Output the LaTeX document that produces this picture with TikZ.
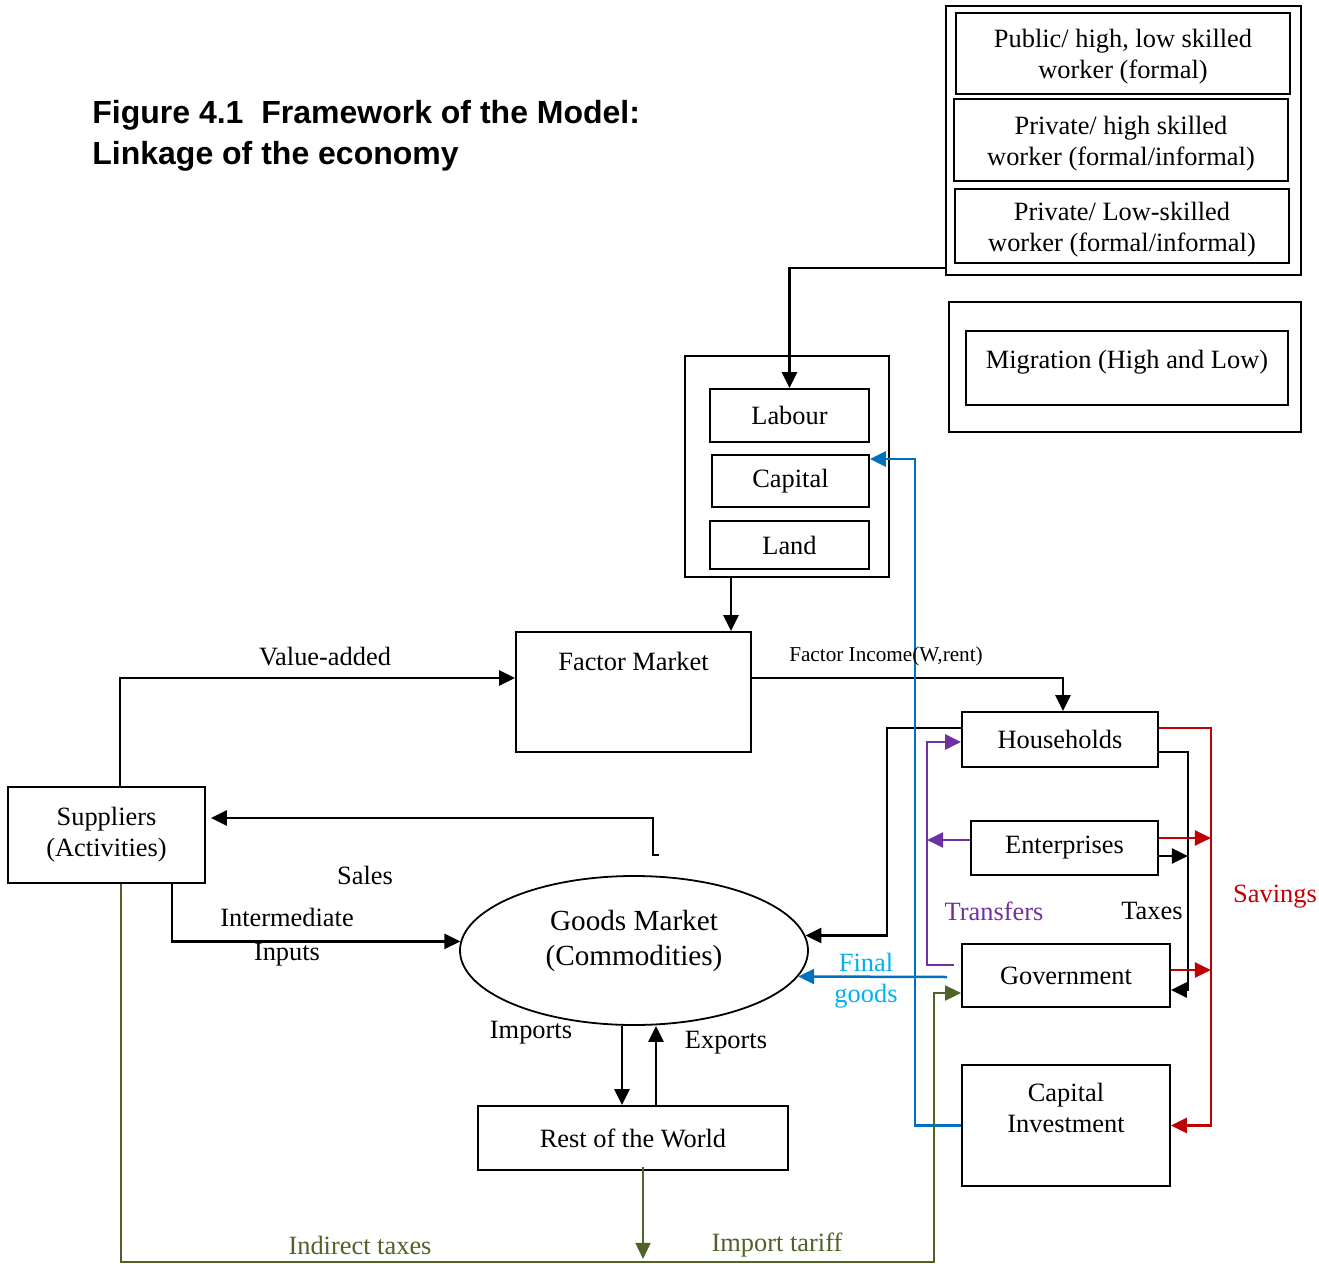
\documentclass[tikz,border=0pt]{standalone}
\usepackage{fontspec}
\setmainfont{Liberation Serif}
\newfontfamily\titlefont{Liberation Sans}
\usepackage{tikz}
\usetikzlibrary{calc,arrows.meta,shapes.geometric}
\definecolor{trfc}{HTML}{7030A0}
\definecolor{savc}{HTML}{C00000}
\definecolor{invc}{HTML}{0070C0}
\definecolor{fgc}{HTML}{00B0F0}
\definecolor{taxc}{HTML}{4F6228}
\tikzset{
  ar/.style={-{Triangle[length=8pt,width=7.5pt]},line width=1.25pt},
  box/.style={draw,line width=0.9pt,align=center,inner sep=2pt,font=\fontsize{13.2}{15.5}\selectfont},
  outerbox/.style={draw,line width=0.7pt,inner sep=0pt},
  lbl/.style={align=center,inner sep=0pt,font=\fontsize{13.2}{15.5}\selectfont}
}

\begin{document}
\begin{tikzpicture}[x=0.5pt,y=-0.5pt]
\useasboundingbox (0,0) rectangle (1319,1264);
% title
\node[anchor=west,align=left,inner sep=0pt,font=\titlefont\bfseries\fontsize{16}{20.5}\selectfont] (title) at (92,136) {Figure 4.1\ \ Framework of the Model:\\Linkage of the economy};
% labour types and migration
\node[outerbox,minimum width=177.5pt,minimum height=134.5pt] (wk) at (1123.5,140.5) {};
\node[box,minimum width=167pt,minimum height=40.5pt,text height=27pt,text depth=2pt] (pub) at (1123,53.5) {Public/ high, low skilled\\worker (formal)};
\node[box,minimum width=167pt,minimum height=41pt,text height=27pt,text depth=2pt] (prh) at (1121,140) {Private/ high skilled\\worker (formal/informal)};
\node[box,minimum width=167pt,minimum height=37pt,text height=27pt,text depth=2pt] (prl) at (1122,226) {Private/ Low-skilled\\worker (formal/informal)};
\node[outerbox,minimum width=176pt,minimum height=65pt] (mo) at (1125,367) {};
\node[box,minimum width=161pt,minimum height=37pt,text height=8pt,text depth=8pt] (mig) at (1127,368) {Migration (High and Low)};
% factors
\node[outerbox,minimum width=102pt,minimum height=110.5pt] (fo) at (787,466.5) {};
\node[box,minimum width=79.5pt,minimum height=26.5pt] (lab) at (789.5,415.5) {Labour};
\node[box,minimum width=78.5pt,minimum height=26pt] (cap) at (790.5,481) {Capital};
\node[box,minimum width=79.5pt,minimum height=24pt] (lnd) at (789.5,545) {Land};
% markets and agents
\node[box,minimum width=117.5pt,minimum height=60pt,text height=9pt,text depth=31pt] (fm) at (633.5,692) {Factor Market};
\node[box,minimum width=98.5pt,minimum height=48pt] (sup) at (106.5,835) {Suppliers\\(Activities)};
\node[box,ellipse,inner sep=0pt,minimum width=174pt,minimum height=74.5pt,text height=24.5pt,text depth=9.5pt,font=\fontsize{14.6}{17.5}\selectfont] (gm) at (634,950.5) {Goods Market\\(Commodities)};
\node[box,minimum width=98pt,minimum height=27.5pt] (hh) at (1060,739.5) {Households};
\node[box,minimum width=93.5pt,minimum height=27pt] (ent) at (1064.5,848) {Enterprises};
\node[box,minimum width=104pt,minimum height=31.5pt] (gov) at (1066,975.5) {Government};
\node[box,minimum width=104pt,minimum height=60.5pt,text height=16.5pt,text depth=10pt] (ci) at (1066,1125.5) {Capital\\Investment};
\node[box,minimum width=155pt,minimum height=32pt] (row) at (633,1138) {Rest of the World};
% flows
\draw[ar] ([yshift=-63.75pt]wk.west) -| (lab.north);
\draw[ar] ([xshift=-28pt]fo.south) -- ([xshift=-28pt]fo.south |- fm.north);
\draw[ar] ([xshift=6.75pt]sup.north) |- ([yshift=7pt]fm.west);
\draw[ar] ([yshift=7pt]fm.east) -| ([xshift=1.5pt]hh.north);
\coordinate (salesend) at (659,855);
\draw[ar] (salesend) -- ++(-3pt,0) |- ([xshift=2.5pt,yshift=8.5pt]sup.east);
\draw[ar] ([xshift=32.75pt]sup.south) |- (gm.177.5);
\draw[ar] ([yshift=5.75pt]hh.west) -- ++(-37pt,0) |- (gm.5.9);
\draw[ar] ([xshift=-5.5pt]row.north |- gm.south) -- ([xshift=-5.5pt]row.north);
\draw[ar] ([xshift=11.5pt]row.north) -- ([xshift=11.5pt]row.north |- gm.south);
% transfers
\draw[ar,trfc] ([xshift=-3.5pt,yshift=5.25pt]gov.west) -- ++(-13.5pt,0) |- ([yshift=-1.25pt]hh.west);
\draw[ar,trfc] ([yshift=4pt]ent.west) -- ++(-21.5pt,0);
% taxes
\draw[ar] ([yshift=-6.25pt]hh.east) -- ++(14.5pt,0) |- ([yshift=-7.25pt]gov.east);
\draw[ar] ([yshift=-4pt]ent.east) -- ++(14.5pt,0);
% savings
\draw[ar,savc] ([yshift=5.75pt]hh.east) -- ++(26pt,0) |- (ci.east);
\draw[ar,savc] ([yshift=5pt]ent.east) -- ++(26pt,0);
\draw[ar,savc] ([yshift=2.75pt]gov.east) -- ++(20pt,0);
% investment and final goods
\draw[ar,invc] (ci.west) -- ++(-23pt,0) |- ([yshift=11pt]cap.east);
\draw[ar,invc] ([xshift=-7pt,yshift=-0.75pt]gov.west) -- (gm.-9.26);
% indirect taxes and tariff
\coordinate (taxcorner) at (934,1262);
\draw[ar,taxc,line width=0.9pt] ([xshift=7.25pt]sup.south) |- (taxcorner) |- ([yshift=-8.75pt]gov.west);
\draw[ar,taxc,line width=0.9pt] ([xshift=5pt,yshift=2pt]row.south) -- ++(0,-46pt);
% labels
\node[lbl] (lva) at (325,657) {Value-added};
\node[lbl,font=\fontsize{10.6}{12}\selectfont] (lfi) at (886,656) {Factor Income(W,rent)};
\node[lbl] (lsa) at (365,875) {Sales};
\node[lbl,font=\fontsize{13.2}{17}\selectfont] (lii) at (287,937) {Intermediate\\Inputs};
\node[lbl] (lim) at (531,1033) {Imports};
\node[lbl] (lex) at (726,1043) {Exports};
\node[lbl,fgc] (lfg) at (866,980.5) {Final\\goods};
\node[lbl,trfc] (ltr) at (994,911) {Transfers};
\node[lbl] (ltx) at (1152,911) {Taxes};
\node[lbl,savc] (lsv) at (1275,897) {Savings};
\node[lbl,taxc] (lit) at (360,1245) {Indirect taxes};
\node[lbl,taxc] (ltf) at (777,1245) {Import tariff};
\end{tikzpicture}
\end{document}
